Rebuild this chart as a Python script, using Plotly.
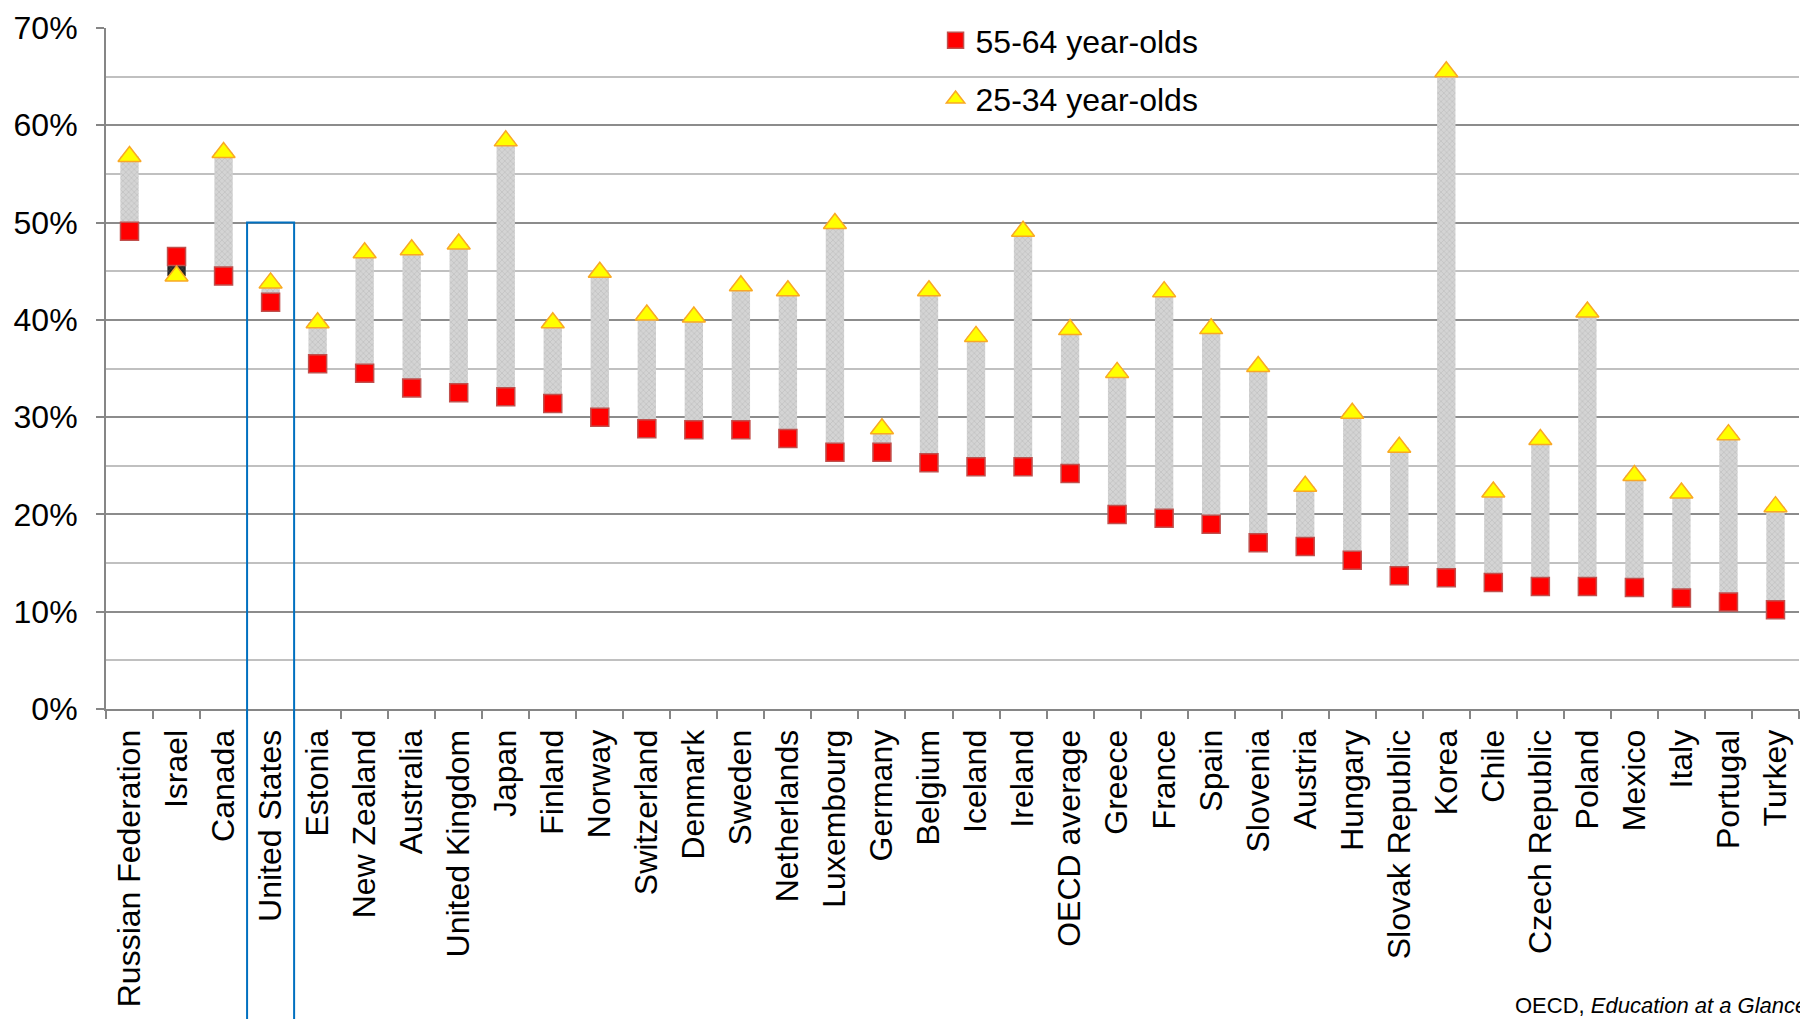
import plotly.graph_objects as go

countries = ["Russian Federation", "Israel", "Canada", "United States", "Estonia", "New Zealand",
             "Australia", "United Kingdom", "Japan", "Finland", "Norway", "Switzerland", "Denmark",
             "Sweden", "Netherlands", "Luxembourg", "Germany", "Belgium", "Iceland", "Ireland",
             "OECD average", "Greece", "France", "Spain", "Slovenia", "Austria", "Hungary",
             "Slovak Republic", "Korea", "Chile", "Czech Republic", "Poland", "Mexico", "Italy",
             "Portugal", "Turkey"]
age_55_64 = [49.1, 46.5, 44.5, 41.8, 35.5, 34.5, 33.0, 32.5, 32.1, 31.4, 30.0, 28.8, 28.7,
             28.7, 27.8, 26.4, 26.4, 25.3, 24.9, 24.9, 24.2, 20.0, 19.6, 19.0, 17.1, 16.7,
             15.3, 13.7, 13.5, 13.0, 12.6, 12.6, 12.5, 11.4, 11.0, 10.2]
age_25_34 = [56.8, 44.5, 57.2, 43.8, 39.7, 46.9, 47.2, 47.8, 58.4, 39.7, 44.9, 40.5, 40.3,
             43.5, 43.0, 49.9, 28.8, 43.0, 38.3, 49.1, 39.0, 34.6, 42.9, 39.1, 35.2, 22.9,
             30.4, 26.9, 65.5, 22.3, 27.7, 40.8, 24.0, 22.2, 28.2, 20.8]
y_ticks = [0, 10, 20, 30, 40, 50, 60, 70]
y_labels = ["0%", "10%", "20%", "30%", "40%", "50%", "60%", "70%"]
highlight = "United States"

FONT = "Liberation Sans, Arial, sans-serif"

base = [min(a, b) for a, b in zip(age_55_64, age_25_34)]
diff = [abs(b - a) for a, b in zip(age_55_64, age_25_34)]
bar_colors = ["#d4d4d4" if b >= a else "#222222" for a, b in zip(age_55_64, age_25_34)]

fig = go.Figure()
fig.add_trace(go.Bar(
    x=countries, y=diff, base=base, width=0.39,
    marker=dict(color=bar_colors, line=dict(width=0),
                pattern=dict(shape="x", size=4, solidity=0.1, fgcolor="#c9c9c9")),
    showlegend=False, hoverinfo="skip"))
fig.add_trace(go.Scatter(
    x=countries, y=age_55_64, mode="markers", name="55-64 year-olds", legendgroup="a",
    marker=dict(symbol="square", size=18, color="#ff0000", line=dict(color="#c0504d", width=1.5))))
fig.add_trace(go.Scatter(
    x=countries, y=age_25_34, mode="markers", name="25-34 year-olds", legendgroup="b",
    marker=dict(symbol="triangle-up", size=20, color="#ffff00", line=dict(color="#f9a825", width=1.5))))

idx = countries.index(highlight)
fig.add_shape(type="rect", xref="x", yref="paper", x0=idx - 0.5, x1=idx + 0.5,
              y0=50 / 70, y1=-0.48, line=dict(color="#0070c0", width=2), layer="above")

fig.add_annotation(xref="paper", yref="paper", x=1.006, y=-0.4347, xanchor="right", yanchor="middle",
                   text="OECD, <i>Education at a Glance</i>", showarrow=False,
                   font=dict(family=FONT, size=22, color="black"))

fig.update_layout(
    width=1800, height=1011,
    margin=dict(l=98, r=9, t=20, b=310, autoexpand=False),
    paper_bgcolor="white", plot_bgcolor="white",
    font=dict(family=FONT, color="black"),
    legend=dict(x=0.49, y=1.022, xanchor="left", yanchor="top", bgcolor="rgba(0,0,0,0)",
                font=dict(family=FONT, size=32, color="black"), tracegroupgap=14,
                itemsizing="trace", itemwidth=30),
    xaxis=dict(type="category", tickangle=-90, tickfont=dict(family=FONT, size=32, color="black"),
               showline=True, linecolor="#868686", linewidth=2, ticks="outside", tickson="boundaries",
               ticklen=8, tickcolor="#868686", tickwidth=2, showgrid=False, automargin=False,
               ticklabelstandoff=6, range=[-0.5, len(countries) - 0.5]),
    yaxis=dict(range=[0, 70], tickvals=y_ticks, ticktext=y_labels, automargin=False,
               tickfont=dict(family=FONT, size=32, color="black"), ticklabelstandoff=12,
               ticklabeloverflow="allow",
               showline=True, linecolor="#868686", linewidth=2, ticks="outside", ticklen=8,
               tickcolor="#868686", tickwidth=2,
               showgrid=True, gridcolor="#8c8c8c", gridwidth=2, zeroline=False,
               minor=dict(dtick=5, showgrid=True, gridcolor="#c0c0c0", gridwidth=2, ticks="")),
)

fig.write_html("out.html")
